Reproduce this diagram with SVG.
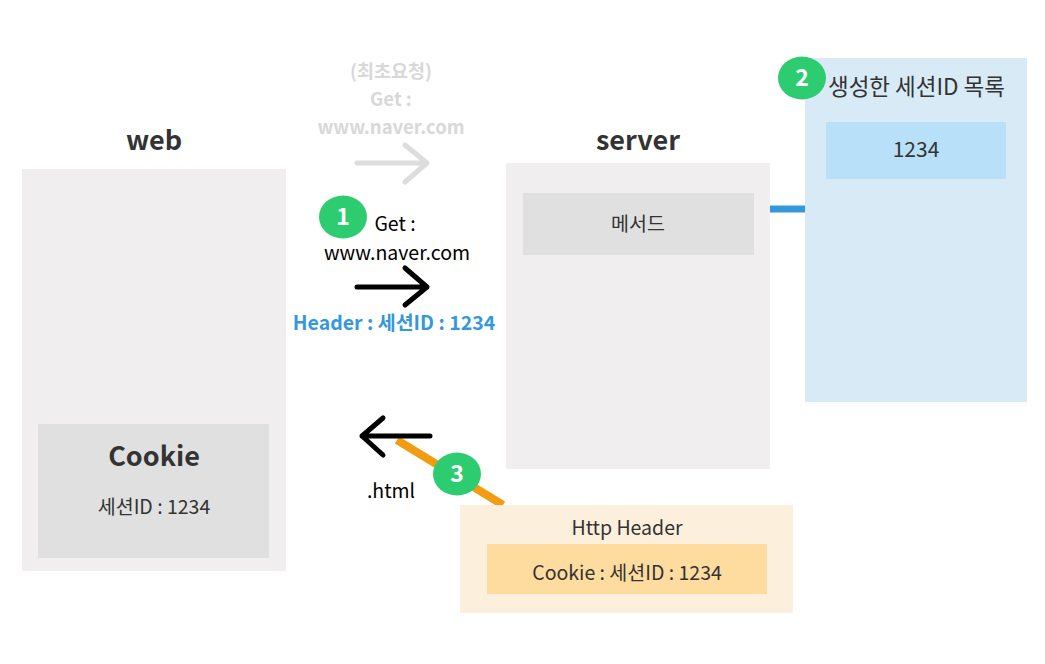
<svg xmlns="http://www.w3.org/2000/svg" width="1045" height="664" viewBox="0 0 1045 664">
<style>
text{font-family:"Noto Sans CJK KR","Noto Sans",sans-serif;fill:#333;text-anchor:middle}
.title{font-size:27px;font-weight:bold}
.lbl{font-size:19.5px}
.blk{fill:#000}
.gray{fill:#d8d8d8;font-weight:bold;font-size:18.5px}
.blue{fill:#3498db;font-weight:bold;font-size:19.5px}
.badge ellipse{fill:#2ecc71}
.badge text{fill:#fff;font-weight:bold;font-size:23px}
.arr{fill:none;stroke-width:5;stroke-linecap:round;stroke-linejoin:round}
</style>
<rect width="1045" height="664" fill="#fff"/>
<g id="connectors">
<line x1="770" y1="209" x2="805" y2="209" stroke="#3498db" stroke-width="7"/>
<line x1="397" y1="440" x2="503" y2="505" stroke="#f39c12" stroke-width="8"/>
<path class="arr" stroke="#dddddd" d="M357 163H427M405 145L427 163L405 182"/>
<path class="arr" stroke="#000" d="M357 287H427M405 268L427 287L405 305"/>
<path class="arr" stroke="#000" d="M430 436H362M383 418L362 436L383 455"/>
</g>
<g id="web">
<text class="title" x="154" y="150">web</text>
<rect x="22" y="169" width="264" height="402" fill="#f0eeef"/>
</g>
<g id="cookie">
<rect x="38" y="424" width="231" height="134" fill="#e0e0e0"/>
<text class="title" x="154" y="466">Cookie</text>
<text class="lbl" x="154" y="514">세션ID : 1234</text>
</g>
<g id="server">
<text class="title" x="638" y="150">server</text>
<rect x="506" y="163" width="264" height="306" fill="#f0eeef"/>
</g>
<g id="method">
<rect x="523" y="193" width="231" height="62" fill="#e0e0e0"/>
<text class="lbl" x="638" y="231">메서드</text>
</g>
<g id="session-list">
<rect x="805" y="58" width="222" height="344" fill="#d9eaf7"/>
<text x="916.5" y="95" style="font-size:22.5px">생성한 세션ID 목록</text>
<rect x="826" y="122" width="180" height="57" fill="#b8e0f9"/>
<text x="916" y="157" style="font-size:21px">1234</text>
</g>
<g id="http-header">
<rect x="460" y="505" width="333" height="108" fill="#fcefdc"/>
<text x="627" y="535" style="font-size:19.5px">Http Header</text>
<rect x="487" y="544" width="280" height="50" fill="#fedb9f"/>
<text x="627" y="580" style="font-size:19.5px">Cookie : 세션ID : 1234</text>
</g>
<g id="labels">
<text class="gray" x="391" y="78">(최초요청)</text>
<text class="gray" x="391" y="106">Get :</text>
<text class="gray" x="391" y="134">www.naver.com</text>
<text class="lbl blk" x="395" y="231">Get :</text>
<text class="lbl blk" x="397" y="260">www.naver.com</text>
<text class="blue" x="394" y="330">Header : 세션ID : 1234</text>
<text class="lbl blk" x="391" y="498">.html</text>
</g>
<g id="badge1" class="badge"><ellipse cx="343" cy="217" rx="24" ry="21.5"/><text x="343" y="225">1</text></g>
<g id="badge2" class="badge"><ellipse cx="802" cy="78" rx="24" ry="21.5"/><text x="802" y="86">2</text></g>
<g id="badge3" class="badge"><ellipse cx="457" cy="474" rx="24" ry="21.5"/><text x="457" y="482">3</text></g>
</svg>
